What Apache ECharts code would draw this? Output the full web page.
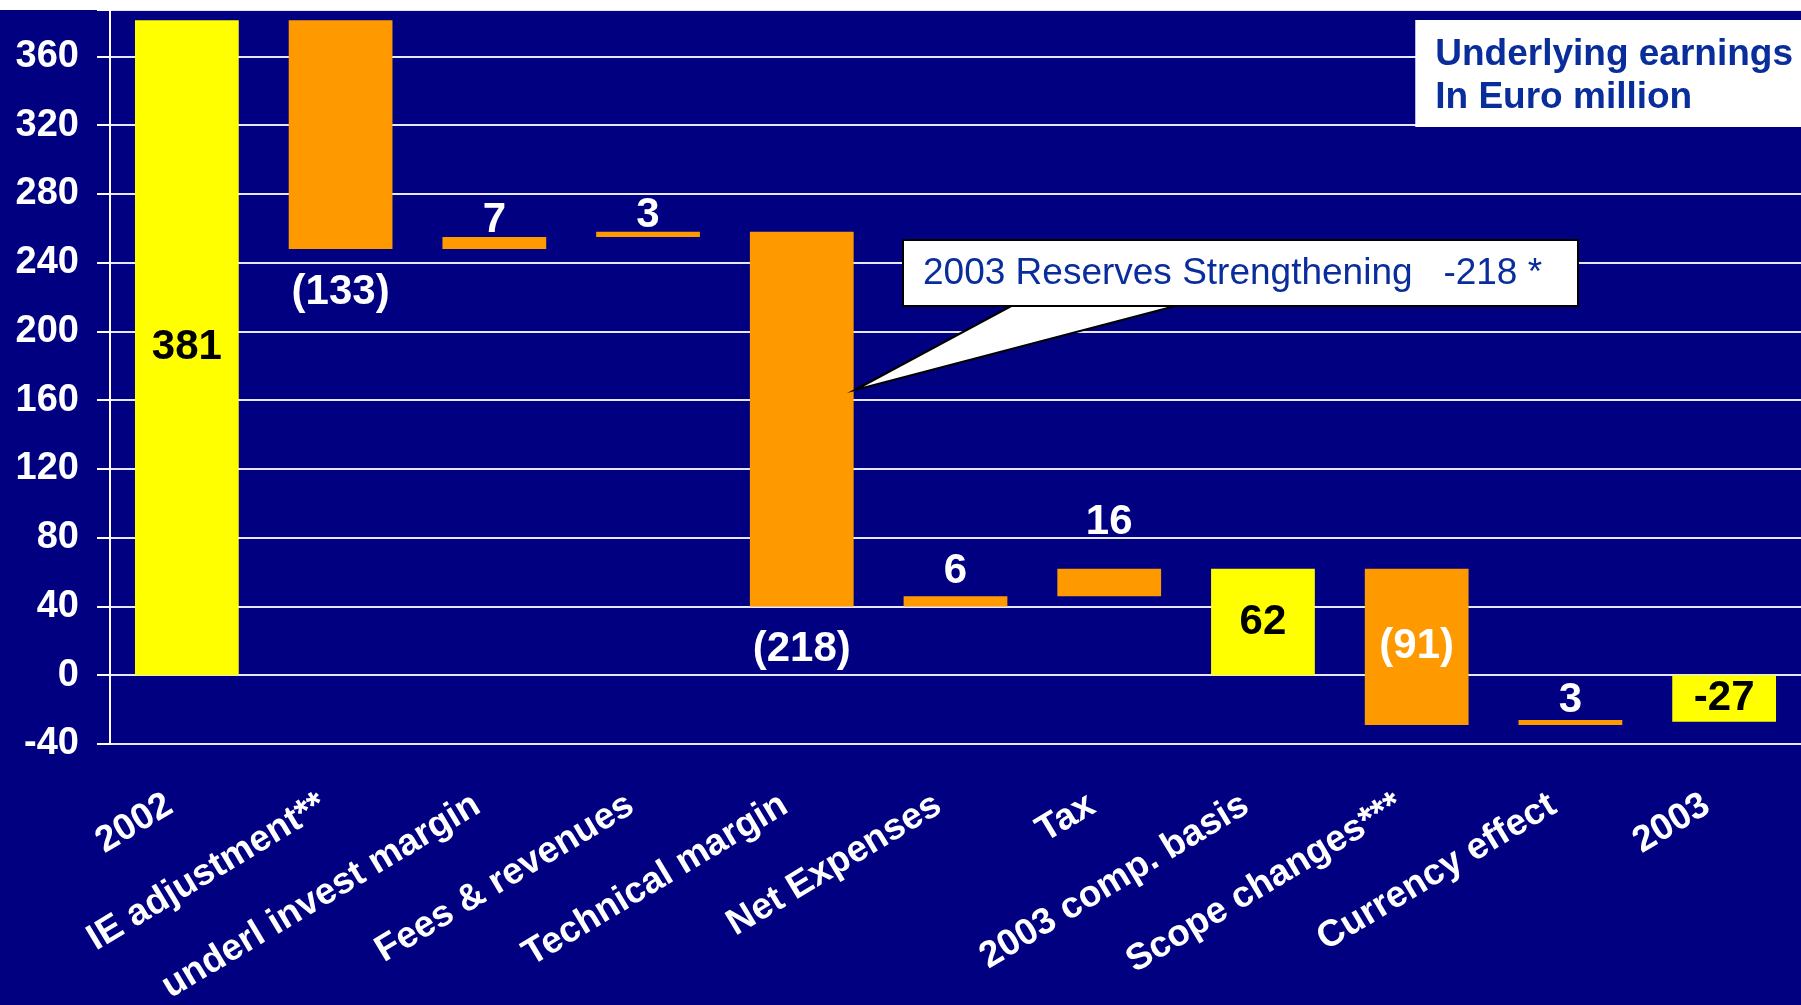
<!DOCTYPE html>
<html>
<head>
<meta charset="utf-8">
<script src="https://cdn.jsdelivr.net/npm/echarts@6/dist/echarts.min.js"></script>
<style>
  html, body { margin: 0; padding: 0; background: #000080; }
  #chart { width: 1801px; height: 1005px; }
</style>
</head>
<body>
<div id="chart"></div>
<script>
// ---- data ----
var categories = ['2002', 'IE adjustment**', 'underl invest margin', 'Fees & revenues',
  'Technical margin', 'Net Expenses', 'Tax', '2003 comp. basis', 'Scope changes***',
  'Currency effect', '2003'];
var barStart = [0, 381, 248, 255, 258, 40, 46, 0, 62, -29, 0];
var barEnd   = [381, 248, 255, 258, 40, 46, 62, 62, -29, -26, -27];
var barLabels = ['381', '(133)', '7', '3', '(218)', '6', '16', '62', '(91)', '3', '-27'];
var isTotal = [true, false, false, false, false, false, false, true, false, false, true];
var yTicks = [-40, 0, 40, 80, 120, 160, 200, 240, 280, 320, 360];

// ---- label styling (not data) ----
var labelPlacement = ['inside', 'below', 'above', 'above', 'below', 'above', 'above', 'inside', 'inside', 'above', 'inside'];
var labelNudge = [0, 0, 0, 0, 0, 9, 30, 0, 0, 4, 0];

var FONT = '"Liberation Sans", Arial, sans-serif';
var chart = echarts.init(document.getElementById('chart'));

var seriesData = categories.map(function (c, i) { return [i, barStart[i], barEnd[i]]; });

chart.setOption({
  backgroundColor: '#000080',
  animation: false,
  title: {
    text: 'Underlying earnings\nIn Euro million',
    right: 0, top: 20,
    backgroundColor: '#ffffff',
    padding: [13, 8, 8, 20],
    textStyle: { color: '#0a2d9c', fontSize: 37, fontWeight: 'bold', lineHeight: 43, fontFamily: FONT }
  },
  grid: { left: 110, right: 0, top: 10, bottom: 261, containLabel: false, outerBoundsMode: 'none' },
  xAxis: {
    type: 'category',
    data: categories,
    axisLine: { show: false },
    axisTick: { show: false },
    splitLine: { show: false },
    axisLabel: {
      interval: 0, rotate: 31, margin: 48,
      padding: [0, 20, 0, 0],
      color: '#ffffff', fontSize: 37, fontWeight: 'bold', fontFamily: FONT
    }
  },
  yAxis: {
    type: 'value',
    min: -40, max: 387, interval: 40,
    axisLine: { show: true, lineStyle: { color: '#ffffff', width: 2 } },
    axisTick: { show: true, length: 13, lineStyle: { color: '#ffffff', width: 2 } },
    splitLine: { show: true, lineStyle: { color: '#e6e6ff', width: 2 } },
    axisLabel: {
      margin: 31, color: '#ffffff', fontSize: 38, fontWeight: 'bold', fontFamily: FONT,
      formatter: function (v) { return yTicks.indexOf(v) >= 0 ? String(v) : ''; }
    }
  },
  series: [{
    type: 'custom',
    data: seriesData,
    encode: { x: 0, y: [1, 2] },
    renderItem: function (params, api) {
      var i = api.value(0);
      var a = api.value(1), b = api.value(2);
      var pTop = api.coord([i, Math.max(a, b)]);
      var pBot = api.coord([i, Math.min(a, b)]);
      var w = api.size([1, 0])[0] * 0.675;
      var total = isTotal[i];
      var place = labelPlacement[i];
      var ly;
      if (place === 'inside') ly = (pTop[1] + pBot[1]) / 2;
      else if (place === 'above') ly = pTop[1] - 16 - labelNudge[i];
      else ly = pBot[1] + 43 + labelNudge[i];
      return {
        type: 'group',
        children: [{
          type: 'rect',
          shape: { x: pTop[0] - w / 2, y: pTop[1], width: w, height: pBot[1] - pTop[1] },
          style: { fill: total ? '#ffff00' : '#ff9900' }
        }, {
          type: 'text',
          x: pTop[0], y: ly,
          style: {
            text: barLabels[i],
            fill: total ? '#000000' : '#ffffff',
            font: 'bold 42px ' + FONT,
            align: 'center', verticalAlign: 'middle'
          }
        }]
      };
    }
  }],
  graphic: [
    { type: 'rect', left: 0, top: 0, z: 100, shape: { width: 1801, height: 10 }, style: { fill: '#ffffff' } },
    { type: 'polygon', z: 100, shape: { points: [[1015, 304], [855, 390], [1183, 304]] },
      style: { fill: '#ffffff', stroke: '#000000', lineWidth: 2 } },
    { type: 'rect', z: 101, shape: { x: 903, y: 240, width: 675, height: 66 },
      style: { fill: '#ffffff', stroke: '#000000', lineWidth: 2 } },
    { type: 'text', z: 102, x: 923, y: 274,
      style: { text: '2003 Reserves Strengthening   -218 *', fill: '#0a2d9c',
               font: '37px ' + FONT, verticalAlign: 'middle', align: 'left' } }
  ]
});
</script>
</body>
</html>
